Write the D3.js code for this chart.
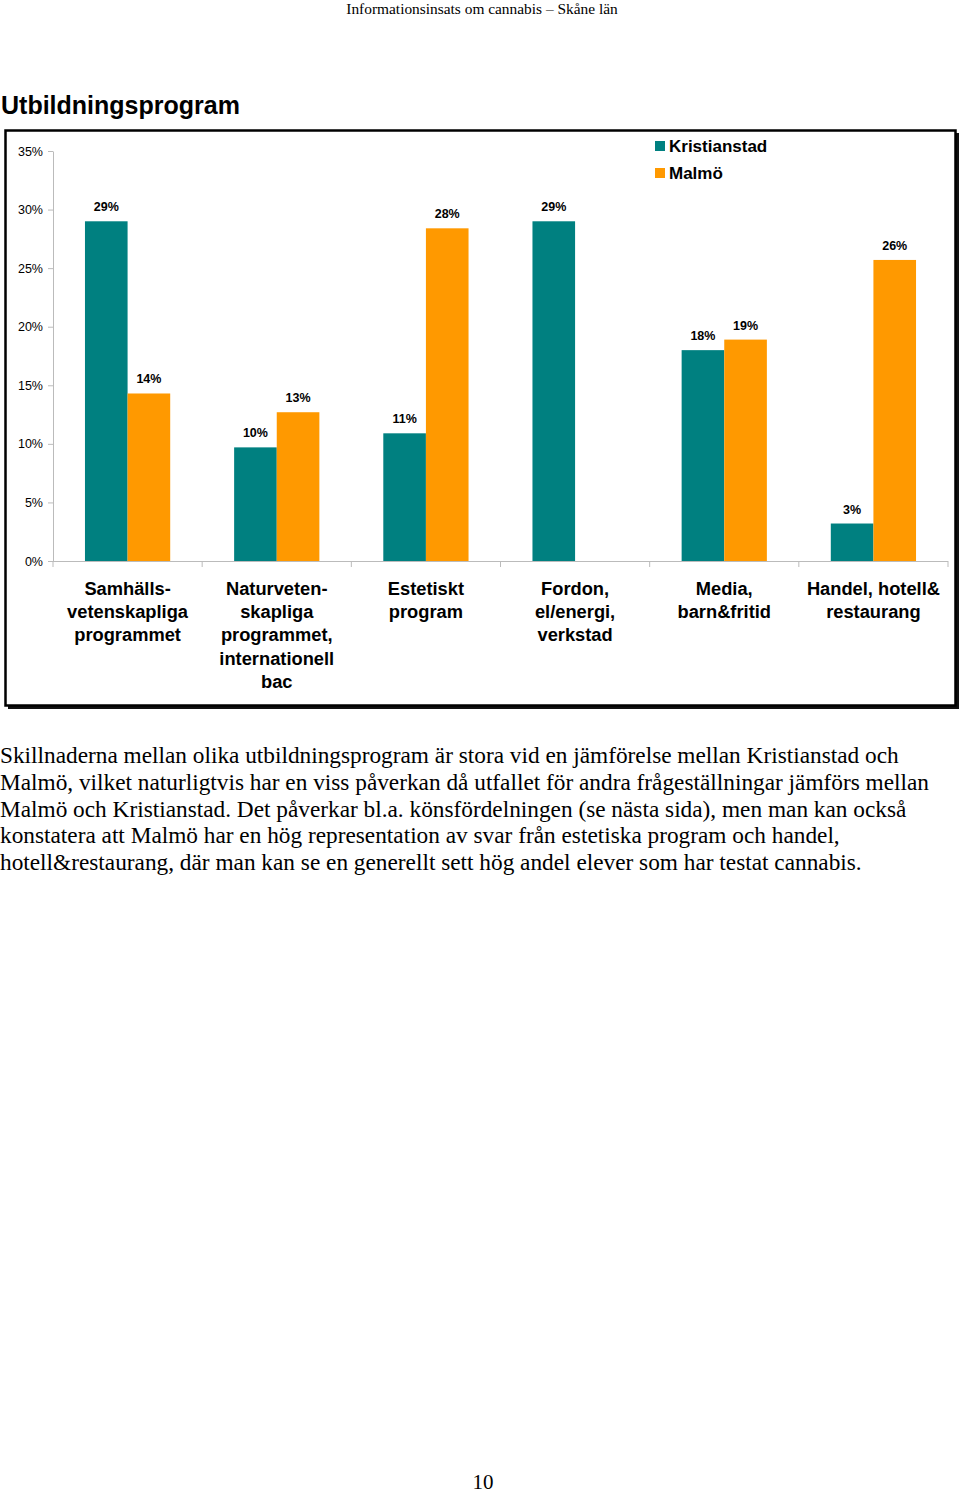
<!DOCTYPE html>
<html><head><meta charset="utf-8">
<script src="https://cdn.jsdelivr.net/npm/d3@7"></script>
<style>
html,body{margin:0;padding:0;background:#fff;}
svg{display:block;}
</style></head>
<body>
<svg id="c" width="960" height="1494"></svg>
<script>
const categories = [
  ["Samhälls-","vetenskapliga","programmet"],
  ["Naturveten-","skapliga","programmet,","internationell","bac"],
  ["Estetiskt","program"],
  ["Fordon,","el/energi,","verkstad"],
  ["Media,","barn&fritid"],
  ["Handel, hotell&","restaurang"]
];
const seriesNames = ["Kristianstad","Malmö"];
const kristianstad = [29.0, 9.7, 10.9, 29.0, 18.0, 3.2];
const malmo = [14.3, 12.7, 28.4, null, 18.9, 25.7];
const yTicks = [0,5,10,15,20,25,30,35];
const colors = ["#008080","#FF9900"];
const headerText = "Informationsinsats om cannabis – Skåne län";
const titleText = "Utbildningsprogram";
const bodyLines = [
 "Skillnaderna mellan olika utbildningsprogram är stora vid en jämförelse mellan Kristianstad och",
 "Malmö, vilket naturligtvis har en viss påverkan då utfallet för andra frågeställningar jämförs mellan",
 "Malmö och Kristianstad. Det påverkar bl.a. könsfördelningen (se nästa sida), men man kan också",
 "konstatera att Malmö har en hög representation av svar från estetiska program och handel,",
 "hotell&restaurang, där man kan se en generellt sett hög andel elever som har testat cannabis."
];
const pageNumber = "10";

const svg = d3.select("#c");
const serif = "'Liberation Serif','Times New Roman',serif";
const sans = "'Liberation Sans',Arial,sans-serif";

svg.append("text").attr("x",482).attr("y",13.5).attr("text-anchor","middle")
  .style("font-family",serif).style("font-size","15.4px").text(headerText);
svg.append("text").attr("x",1).attr("y",114)
  .style("font-family",sans).style("font-weight","bold").style("font-size","25px").text(titleText);

// frame with shadow
svg.append("rect").attr("x",8).attr("y",133).attr("width",951).attr("height",576).attr("fill","#111");
svg.append("rect").attr("x",5.5).attr("y",130.5).attr("width",950).attr("height",575)
  .attr("fill","#fff").attr("stroke","#000").attr("stroke-width",2.5);

const x0 = d3.scaleBand().domain(d3.range(categories.length)).range([53,948]).padding(0);
const x1 = d3.scaleBand().domain(seriesNames).range([0,x0.bandwidth()]).paddingInner(0).paddingOuter(0.75);
const y = d3.scaleLinear().domain([0,35]).range([561,151]);

// y axis
const yAxis = d3.axisLeft(y).tickValues(yTicks).tickFormat(d=>d+"%").tickSize(5).tickSizeOuter(0);
const gy = svg.append("g").attr("transform","translate(53,0)").call(yAxis);
gy.select(".domain").attr("stroke","#bbb");
gy.selectAll(".tick line").attr("stroke","#bbb");
gy.selectAll(".tick text").attr("x",-10).style("font-family",sans).style("font-size","12.5px").attr("fill","#000");

// x axis line + ticks at band edges
const gx = svg.append("g");
gx.append("line").attr("x1",x0.range()[0]).attr("x2",x0.range()[1]).attr("y1",y(0)+0.5).attr("y2",y(0)+0.5).attr("stroke","#bbb");
const edges = d3.range(categories.length+1).map(i=> i<categories.length ? x0(i) : x0.range()[1]);
gx.selectAll("line.t").data(edges).join("line").attr("class","t")
  .attr("x1",d=>d).attr("x2",d=>d).attr("y1",y(0)).attr("y2",y(0)+6).attr("stroke","#bbb");

// bars
const data = categories.map((c,i)=>({i, vals:[kristianstad[i], malmo[i]]}));
const groups = svg.selectAll("g.grp").data(data).join("g").attr("class","grp")
  .attr("transform",d=>`translate(${x0(d.i)},0)`);
groups.selectAll("rect").data(d=>d.vals.map((v,k)=>({v,k})).filter(e=>e.v!=null))
  .join("rect")
  .attr("x",e=>x1(seriesNames[e.k])).attr("width",x1.bandwidth())
  .attr("y",e=>y(e.v)).attr("height",e=>y(0)-y(e.v)).attr("fill",e=>colors[e.k]);
groups.selectAll("text.lbl").data(d=>d.vals.map((v,k)=>({v,k})).filter(e=>e.v!=null))
  .join("text").attr("class","lbl")
  .attr("x",e=>x1(seriesNames[e.k])+x1.bandwidth()/2).attr("y",e=>y(e.v)-10)
  .attr("text-anchor","middle").style("font-family",sans).style("font-weight","bold").style("font-size","12.5px")
  .text(e=>Math.round(e.v)+"%");

// category labels
svg.selectAll("text.cat").data(categories).join("text").attr("class","cat")
  .attr("text-anchor","middle").style("font-family",sans).style("font-weight","bold").style("font-size","18.3px")
  .each(function(lines,i){
    const t=d3.select(this);
    lines.forEach((l,j)=>{
      t.append("tspan").attr("x",x0(i)+x0.bandwidth()/2).attr("y",595+j*23.2).text(l);
    });
  });

// legend
const lg = svg.append("g");
seriesNames.forEach((s,k)=>{
  lg.append("rect").attr("x",655).attr("y",141+k*27).attr("width",10).attr("height",10).attr("fill",colors[k]);
  lg.append("text").attr("x",669).attr("y",152+k*27).style("font-family",sans).style("font-weight","bold")
    .style("font-size","17px").text(s);
});

// body text
svg.selectAll("text.body").data(bodyLines).join("text").attr("class","body")
  .attr("x",0).attr("y",(d,i)=>763+i*26.8).style("font-family",serif).style("font-size","23.3px").text(d=>d);

svg.append("text").attr("x",483).attr("y",1489).attr("text-anchor","middle")
  .style("font-family",serif).style("font-size","21px").text(pageNumber);
</script>
</body></html>
